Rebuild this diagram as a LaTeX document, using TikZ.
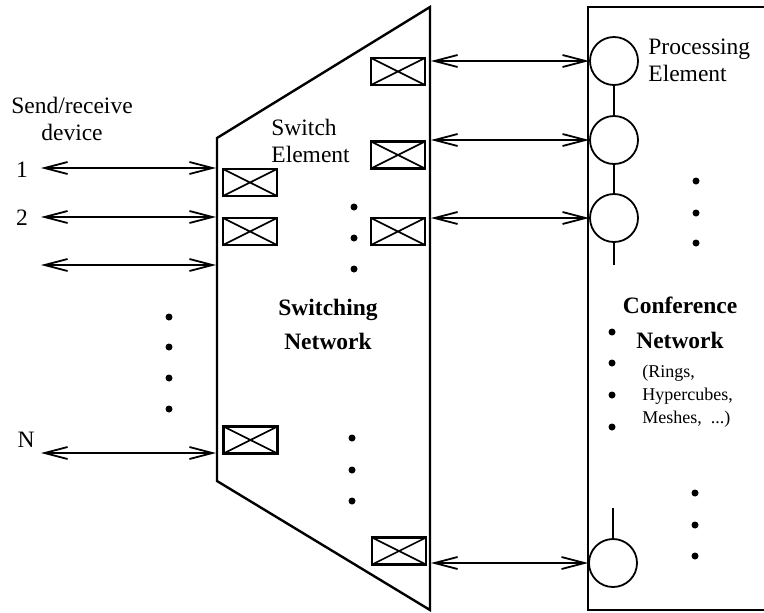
\documentclass[tikz,border=0pt]{standalone}
\usepackage{fontspec}
\setmainfont{Liberation Serif}
\usetikzlibrary{arrows.meta}

\tikzset{
  swbox/.style={draw, line width=1.2pt, minimum width=27pt, minimum height=13.5pt, inner sep=0pt,
    path picture={\draw[line width=0.8pt]
      (path picture bounding box.north west) -- (path picture bounding box.south east)
      (path picture bounding box.south west) -- (path picture bounding box.north east);}},
  pe/.style={draw, circle, line width=0.9pt, minimum size=24pt, inner sep=0pt},
  link/.style={{Straight Barb[length=11.5pt,width=6pt]}-{Straight Barb[length=11.5pt,width=6pt]}, line width=0.9pt},
  txt/.style={inner sep=0pt}
}

\begin{document}
\begin{tikzpicture}[x=0.5pt,y=-0.5pt,font=\fontsize{11.75}{13.5}\selectfont]
    \useasboundingbox (0,0) rectangle (764,612);
    % Define the edges of the two blocks
    \def\swleft{217}
    \def\swright{430}
    \def\cnleft{588}

    % Draw the switching network and the conference network
    \draw[line width=1.2pt] (\swleft,138) -- (\swright,7) -- (\swright,610) -- (\swleft,481) -- cycle;
    \draw[line width=1.1pt] (764,7) -- (\cnleft,7) -- (\cnleft,610) -- (764,610);

    % Switch elements
    \node[swbox] (swin1) at (250,182.5) {};
    \node[swbox] (swin2) at (250,231.5) {};
    \node[swbox] (swinN) at (250.5,440) {};
    \node[swbox] (swout1) at (398,71.5) {};
    \node[swbox] (swout2) at (398,155) {};
    \node[swbox] (swout3) at (398,231.5) {};
    \node[swbox] (swoutN) at (399,551) {};

    % Processing elements
    \node[pe] (pe1) at (614,61) {};
    \node[pe] (pe2) at (614,140) {};
    \node[pe] (pe3) at (614,218) {};
    \node[pe] (peN) at (613,563) {};
    \coordinate (pe3tail) at (614,265);
    \coordinate (peNtail) at (613,508);
    \draw[line width=0.9pt] (pe1) -- (pe2) (pe2) -- (pe3) (pe3) -- (pe3tail);
    \draw[line width=0.9pt] (peNtail) -- (peN);

    % Links to the send/receive devices
    \foreach \name/\y in {dev1/168, dev2/217, dev3/265, devN/453} {
      \coordinate (\name) at (41,\y);
      \coordinate (\name-in) at (216,\y);
      \draw[link] (\name) -- (\name-in);
    }

    % Links to the processing elements
    \foreach \name/\y in {pe1/61, pe2/140, pe3/218, peN/563} {
      \coordinate (\name-out) at (431,\y);
      \draw[link] (\name-out) -- (\name.west);
    }

    % Labels
    \node[anchor=base] (lab1) at (22,177) {1};
    \node[anchor=base] (lab2) at (22,225) {2};
    \node[anchor=base] (labN) at (26,447) {N};
    \node[txt, align=center, anchor=north] (devlab) at (72,97) {Send/receive\\device};
    \node[txt, align=left, anchor=north west] (swlab) at (271,119) {Switch\\Element};
    \node[txt, align=left, anchor=north west] (pelab) at (648,39) {Processing\\Element};
    \node[txt, align=center, anchor=north, font=\bfseries\fontsize{11.75}{17}\selectfont] (swnet) at (328,299) {Switching\\Network};
    \node[txt, align=center, anchor=north, font=\bfseries\fontsize{11.75}{17.5}\selectfont] (cnnet) at (680,297) {Conference\\Network};
    \node[txt, align=left, anchor=north west, font=\fontsize{9}{11.5}\selectfont] (topo) at (642,365) {(Rings,\\Hypercubes,\\Meshes,\ \ ...)};

    % Dots
    \foreach \y in {317,347,378,409} \fill (169,\y) circle (3.5);
    \foreach \y in {207,238,269} \fill (354,\y) circle (3.5);
    \foreach \y in {438,470,501} \fill (352,\y) circle (3.5);
    \foreach \y in {181,213,243} \fill (696,\y) circle (3.5);
    \foreach \y in {332,363,395,427} \fill (612,\y) circle (3.5);
    \foreach \y in {493,525,556} \fill (695,\y) circle (3.5);
\end{tikzpicture}
\end{document}
